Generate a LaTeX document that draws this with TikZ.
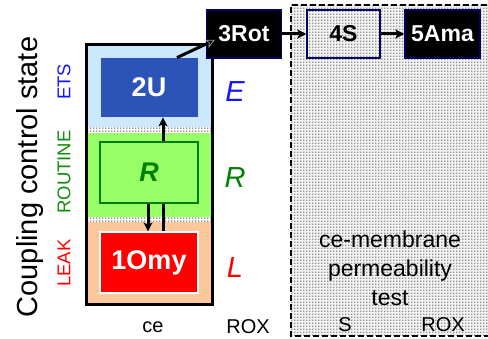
\documentclass[tikz,border=0pt]{standalone}
\usepackage{fontspec}
\setmainfont{Liberation Sans}
\usetikzlibrary{arrows.meta,patterns}
\pgfdeclarepatternformonly{stipple}{\pgfpointorigin}{\pgfpoint{3pt}{3pt}}{\pgfpoint{3pt}{3pt}}{%
  \pgfpathrectangle{\pgfpointorigin}{\pgfpoint{1.8pt}{1.8pt}}\pgfusepath{fill}}
\definecolor{lblue}{RGB}{204,232,252}
\definecolor{ublue}{RGB}{44,84,184}
\definecolor{lgreen}{RGB}{153,255,102}
\definecolor{dgreen}{RGB}{0,128,0}
\definecolor{lorange}{RGB}{250,200,155}
\definecolor{navy}{RGB}{0,0,102}
\definecolor{ebl}{RGB}{20,20,255}
\begin{document}
\begin{tikzpicture}[x=1pt,y=-1pt,
  statebox/.style={minimum width=98pt,minimum height=60pt,inner sep=0pt,text=white,font=\fontsize{27}{27}\selectfont\bfseries},
  topbox/.style={minimum width=75pt,minimum height=48pt,inner sep=0pt,draw=navy,line width=1.5pt,font=\fontsize{23}{23}\selectfont\bfseries},
  lbl/.style={inner sep=0pt,rotate=90,font=\fontsize{18.5}{18.5}\selectfont},
  bot/.style={inner sep=0pt,font=\fontsize{20}{20}\selectfont},
  big/.style={inner sep=0pt,font=\fontsize{29}{29}\selectfont\itshape},
  arr/.style={line width=3pt,-{Stealth[length=9pt,width=9pt,inset=2.5pt]}},
  band/.style={fill=white,postaction={pattern=stipple,pattern color=gray!80}}]
\useasboundingbox (0,0) rectangle (488,339);
% dashed stippled region
\fill[gray!10] (291,5) rectangle (496,336);
\fill[pattern=stipple,pattern color=gray!85] (291,5) rectangle (496,336);
\draw[line width=1.8pt,dash pattern=on 6pt off 3pt] (496,5) -- (291,5) -- (291,336) -- (496,336);
% coupling state column
\fill[lblue] (86,45) rectangle (212,127);
\path[band] (86,127) rectangle (212,133);
\fill[lgreen] (86,133) rectangle (212,217);
\path[band] (86,217) rectangle (212,222);
\fill[lorange] (86,222) rectangle (212,305);
\draw[line width=3pt] (86,45) rectangle (212,305);
% state boxes
\node[statebox,fill=ublue,draw=white!80!ublue,line width=0.8pt] (u) at (149,87) {2U};
\node[statebox,minimum height=61pt,fill=lgreen,draw=dgreen,line width=2.4pt,text=dgreen,font=\fontsize{27}{27}\selectfont\bfseries\itshape] (r) at (149,172.5) {R};
\node[statebox,minimum height=61pt,fill=red,draw=white,line width=1.2pt] (o) at (149,262.5) {1Omy};
% top row
\node[topbox,fill=black,text=white] (rot) at (244,34) {3Rot};
\node[topbox,minimum width=73pt] (s4) at (343.5,34) {4S};
\node[topbox,fill=black,text=white] (ama) at (442.5,34) {5Ama};
% arrows
\draw[arr] ([xshift=14pt]r.north) -- ([xshift=14pt]u.south);
\draw[arr] ([xshift=-1pt]r.south) -- ([xshift=-1pt]o.north);
\draw[line width=3pt] ([xshift=14pt]o.north) -- ([xshift=14pt]r.south);
\draw[line width=3pt,-{Stealth[length=9pt,width=9pt,inset=2.5pt,color=gray!75,fill=black,line width=0.7pt]}] ([xshift=28pt,yshift=-1pt]u.north) -- ([xshift=9pt,yshift=-6pt]rot.west);
\draw[arr] (rot.east) -- (s4.west);
\draw[arr] (s4.east) -- (ama.west);
% left labels
\node[lbl,font=\fontsize{29}{29}\selectfont] (ccs) at (30,177) {Coupling control state};
\node[lbl,text=ebl] (ets) at (64,82) {ETS};
\node[lbl,text=dgreen!90!lgreen] (rout) at (64,172) {ROUTINE};
\node[lbl,text=red] (leak) at (64,263) {LEAK};
% right letters
\node[big,text=ebl] (e) at (235,92) {E};
\node[big,text=dgreen] (rr) at (235,178) {R};
\node[big,text=red] (l) at (235,268) {L};
% bottom labels
\node[bot] (ce) at (153,327) {ce};
\node[bot] (rox1) at (248,327) {ROX};
\node[bot] (s) at (345,325) {S};
\node[bot] (rox2) at (443,325) {ROX};
\node[inner sep=0pt,align=center,font=\fontsize{23}{29}\selectfont] (perm) at (390,268) {ce-membrane\\permeability\\test};
\end{tikzpicture}
\end{document}
